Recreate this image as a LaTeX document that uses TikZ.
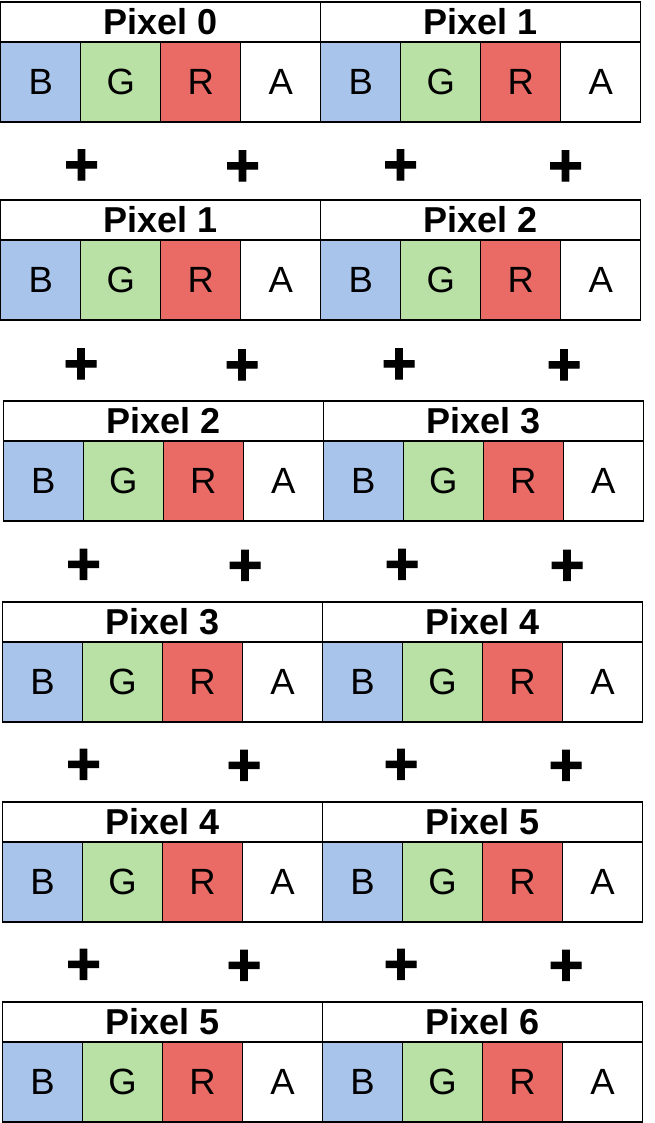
\documentclass[tikz,border=0pt]{standalone}
\usepackage{fontspec}
\setmainfont{Liberation Sans}
\newfontfamily\plusfont{Liberation Sans Bold}[FakeBold=1.5]
\definecolor{cB}{HTML}{A9C4EB}
\definecolor{cG}{HTML}{B9E0A5}
\definecolor{cR}{HTML}{EA6B66}
\tikzset{
  cellbox/.style={draw=black, line width=1.2pt, minimum width=80pt, minimum height=80pt,
    inner sep=0pt, outer sep=0pt, anchor=north west, font=\fontsize{36.5}{36.5}\selectfont},
  hdrbox/.style={draw=black, line width=1.2pt, minimum width=320pt, minimum height=40pt,
    inner sep=0pt, outer sep=0pt, anchor=north west, font=\fontsize{36}{36}\selectfont\bfseries},
  plussign/.style={font=\plusfont\fontsize{60}{60}\selectfont, inner sep=0pt, anchor=base}
}
\begin{document}
\begin{tikzpicture}[x=1pt, y=-1pt]
\fill[white] (0,0) rectangle (655,1123);
\useasboundingbox (0,0) rectangle (655,1123);
\foreach \r/\xo/\yo/\pl/\pr in {1/0.7/2/0/1, 2/0.7/200/1/2, 3/3.3/401/2/3, 4/2.5/602/3/4, 5/2.5/802/4/5, 6/2.5/1002/5/6} {
  \foreach \k/\lab/\col in {0/B/cB,1/G/cG,2/R/cR,3/A/white,4/B/cB,5/G/cG,6/R/cR,7/A/white} {
    \node[cellbox, fill=\col] (c\r-\k) at (\xo+80*\k, \yo+40) {\lab};
  }
  \node[hdrbox] (h\r-a) at (\xo,\yo) {Pixel \pl};
  \node[hdrbox] (h\r-b) at (\xo+320,\yo) {Pixel \pr};
}
\foreach \r/\py/\xa/\xb/\xc/\xd in {1/163.5/81.5/242.5/400.5/565.5, 2/362.5/81/242/399/564, 3/563/83.5/245/402/567, 4/763/83.5/244/401/566, 5/963/83.5/244/401/566} {
  \node[plussign] (p\r-1) at (\xa, \py+21.3) {+};
  \node[plussign] (p\r-2) at (\xb, \py+22.3) {+};
  \node[plussign] (p\r-3) at (\xc, \py+21.3) {+};
  \node[plussign] (p\r-4) at (\xd, \py+22.3) {+};
}
\end{tikzpicture}
\end{document}
